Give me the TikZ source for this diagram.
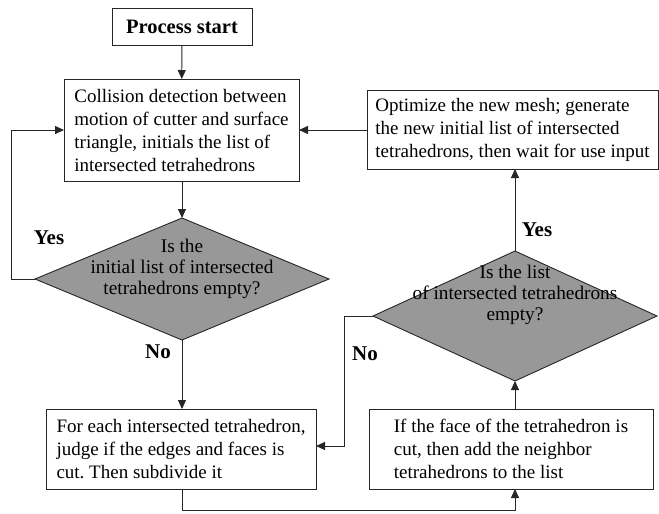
\documentclass[tikz,border=0pt]{standalone}
\usepackage{fontspec}
\setmainfont{Liberation Serif}
\usetikzlibrary{arrows.meta,shapes.geometric}
\definecolor{diagray}{RGB}{152,152,152}
\frenchspacing
\begin{document}
\begin{tikzpicture}[x=1pt,y=-1pt,
  every node/.style={inner sep=0pt,outer sep=0pt},
  boxnode/.style={draw=black!85,line width=0.9pt,fill=white,align=left,
     font=\fontsize{19}{23}\selectfont,anchor=center},
  dianode/.style={diamond,draw=black!85,line width=0.9pt,fill=diagray,inner sep=0pt},
  diatext/.style={align=center,font=\fontsize{19.3}{21}\selectfont},
  lbl/.style={font=\fontsize{21}{24}\selectfont\bfseries},
  conn/.style={draw=black!85,line width=0.9pt},
  arr/.style={conn,-{Triangle[length=9pt,width=8pt]}}]
\useasboundingbox (0,0) rectangle (659,514);

\node[boxnode,minimum width=140pt,minimum height=37pt,align=center,
  font=\fontsize{20.5}{24}\selectfont\bfseries] (start) at (182,26.5) {Process start};

\node[boxnode,minimum width=235pt,minimum height=102pt] (coll) at (181.5,130)
  {Collision detection between\\motion of cutter and surface\\triangle, initials the list of\\intersected tetrahedrons};

\node[dianode,minimum width=294pt,minimum height=122pt] (d1) at (182,279) {};
\node[diatext] (d1t) at (182,269) {Is the\\initial list of intersected\\tetrahedrons empty?};

\node[boxnode,minimum width=270pt,minimum height=80pt] (each) at (181,449)
  {For each intersected tetrahedron,\\judge if the edges and faces is\\cut. Then subdivide it};

\node[boxnode,minimum width=284pt,minimum height=80pt] (face) at (511,449)
  {If the face of the tetrahedron is\\cut, then add the neighbor\\tetrahedrons to the list};

\node[dianode,minimum width=284pt,minimum height=130pt] (d2) at (515,316) {};
\node[diatext] (d2t) at (515,295) {Is the list\\of intersected tetrahedrons\\empty?};

\node[boxnode,minimum width=291pt,minimum height=79pt] (opt) at (512.5,129.5)
  {Optimize the new mesh; generate\\the new initial list of intersected\\tetrahedrons, then wait for use input};

\coordinate (c1) at (11,279);
\coordinate (c2) at (11,130);
\coordinate (c3) at (182,510);
\coordinate (c4) at (515,510);
\coordinate (c5) at (344,316);
\coordinate (c6) at (344,446);

\draw[arr] (start) -- (coll);
\draw[arr] (coll.south -| d1.north) -- (d1.north);
\draw[arr] (d1.west) -- (c1) -- (c2) -- (coll.west |- c2);
\draw[arr] (d1.south) -- (each.north -| d1.south);
\draw[arr] (each.south -| c3) -- (c3) -- (c4) -- (face.south -| c4);
\draw[arr] (face.north -| d2.south) -- (d2.south);
\draw[arr] (d2.west) -- (c5) -- (c6) -- (each.east |- c6);
\draw[arr] (d2.north) -- (opt.south -| d2.north);
\draw[arr] (opt.west |- c2) -- (coll.east |- c2);

\node[lbl] (yes1) at (49,238) {Yes};
\node[lbl] (no1) at (158,352) {No};
\node[lbl] (no2) at (365,354) {No};
\node[lbl] (yes2) at (537,230) {Yes};
\end{tikzpicture}
\end{document}
